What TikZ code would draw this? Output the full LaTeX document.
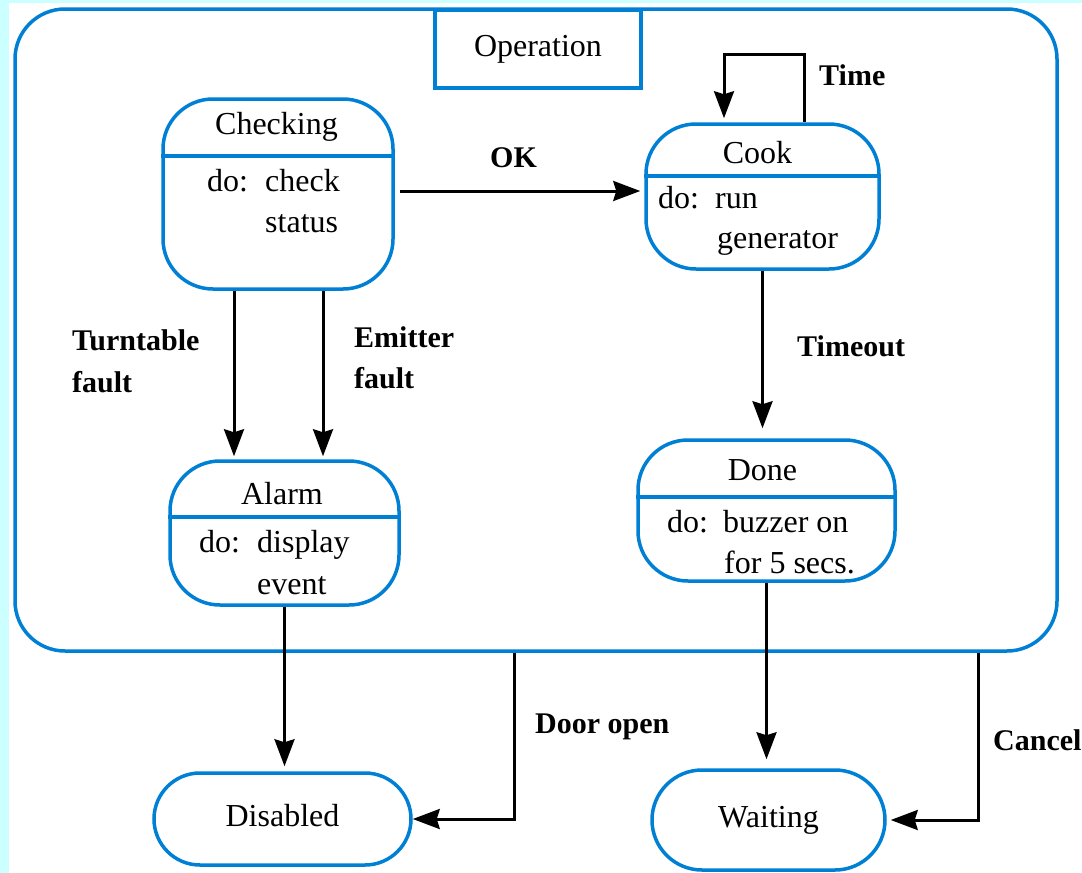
\documentclass[tikz,border=0pt]{standalone}
\usepackage{fontspec}
\setmainfont{Liberation Serif}
\newfontfamily\diagfont{Liberation Serif}
\usetikzlibrary{arrows.meta}
\definecolor{opblue}{RGB}{0,128,212}
\definecolor{bgcyan}{RGB}{204,255,255}

\begin{document}
\begin{tikzpicture}[x=1pt, y=-1pt,
	statebox/.style={draw=opblue, line width=3.5pt, rounded corners=50pt, inner sep=0pt},
	endstate/.style={statebox, font=\diagfont\fontsize{32}{38}\selectfont, text height=22pt, text depth=7pt},
	divider/.style={draw=opblue, line width=3.5pt},
	stitle/.style={font=\diagfont\fontsize{32}{38}\selectfont, anchor=base, inner sep=0pt},
	dotext/.style={font=\diagfont\fontsize{32}{38}\selectfont, anchor=base west, inner sep=0pt},
	evlabel/.style={font=\diagfont\fontsize{30}{36}\selectfont\bfseries, anchor=base west, inner sep=0pt},
	arr/.style={line width=3pt, -{Stealth[length=27pt,width=20pt,inset=3pt]}}]
	\useasboundingbox (0,0) rectangle (1082,873);
	\fill[bgcyan] (0,0) rectangle (1082,873);
	\fill[white] (9,3) rectangle (1082,873);
	
	% superstate
	\node[statebox, minimum width=1042pt, minimum height=642pt] (operation) at (536,330) {};
	\node[draw=opblue, line width=3.5pt, fill=white, minimum width=206pt, minimum height=78pt, inner sep=0pt,
		font=\diagfont\fontsize{32}{38}\selectfont, text height=22pt, text depth=7pt] (optitle) at (538,49) {Operation};
	
	% states
	\node[statebox, minimum width=230pt, minimum height=190pt] (checking) at (278,194) {};
	\draw[divider] (checking.west |- 0,156) -- (checking.east |- 0,156);
	\node[stitle] (chktitle) at (276.5,134) {Checking};
	\node[dotext] (chkdo) at (207,191) {do:};
	\node[dotext] (chkact) at (265,191) {check};
	\node[dotext] (chkact2) at (265,232) {status};
	
	\node[statebox, minimum width=233pt, minimum height=145pt] (cook) at (762.5,196.5) {};
	\draw[divider] (cook.west |- 0,176) -- (cook.east |- 0,176);
	\node[stitle] (cooktitle) at (757.5,163) {Cook};
	\node[dotext] (cookdo) at (658,208) {do:};
	\node[dotext] (cookact) at (715,208) {run};
	\node[dotext] (cookact2) at (717,248) {generator};
	
	\node[statebox, minimum width=229pt, minimum height=144pt] (alarm) at (284.5,533) {};
	\draw[divider] (alarm.west |- 0,517) -- (alarm.east |- 0,517);
	\node[stitle] (alarmtitle) at (282,504) {Alarm};
	\node[dotext] (alarmdo) at (199,552) {do:};
	\node[dotext] (alarmact) at (257,552) {display};
	\node[dotext] (alarmact2) at (257,594) {event};
	
	\node[statebox, minimum width=257pt, minimum height=141pt] (done) at (766.5,510.5) {};
	\draw[divider] (done.west |- 0,497) -- (done.east |- 0,497);
	\node[stitle] (donetitle) at (762.5,480) {Done};
	\node[dotext] (donedo) at (667,532) {do:};
	\node[dotext] (doneact) at (723,532) {buzzer on};
	\node[dotext] (doneact2) at (724,573) {for 5 secs.};
	
	\node[endstate, rounded corners=46pt, minimum width=257pt, minimum height=92pt] (disabled) at (282.5,819) {Disabled};
	\node[endstate, rounded corners=50pt, minimum width=233pt, minimum height=100pt] (waiting) at (768.5,820) {Waiting};
	
	% transitions
	\draw[arr, shorten <=5pt, shorten >=4pt] (checking.east |- 0,191) -- (cook.west |- 0,191);
	\node[evlabel] (ok) at (490,167) {OK};
	
	\draw[arr] ([xshift=41.5pt]cook.north) -- ++(0,-68) -| ([xshift=-38.5pt, yshift=4pt]cook.north);
	\node[evlabel] (time) at (819,85) {Time};
	
	\draw[arr, shorten >=3pt] ([xshift=-44pt]checking.south) -- ([xshift=-44pt]checking.south |- alarm.north);
	\draw[arr, shorten >=3pt] ([xshift=45pt]checking.south) -- ([xshift=45pt]checking.south |- alarm.north);
	\node[evlabel] (turntable) at (72,350) {Turntable};
	\node[evlabel] (turntable2) at (72,392) {fault};
	\node[evlabel] (emitter) at (354,347) {Emitter};
	\node[evlabel] (emitter2) at (354,388) {fault};
	
	\draw[arr, shorten >=10pt] (cook.south) -- (cook.south |- done.north);
	\node[evlabel] (timeout) at (797,356) {Timeout};
	
	\draw[arr, shorten >=5pt] (alarm.south) -- (alarm.south |- disabled.north);
	\draw[arr, shorten >=9pt] (done.south) -- (done.south |- waiting.north);
	
	\draw[arr] ([xshift=-22pt]operation.south) |- (disabled.east);
	\node[evlabel] (dooropen) at (535,733) {Door open};
	\draw[arr, shorten >=4pt] ([xshift=442pt]operation.south) |- (waiting.east);
	\node[evlabel] (cancel) at (993,750) {Cancel};
\end{tikzpicture}
\end{document}
